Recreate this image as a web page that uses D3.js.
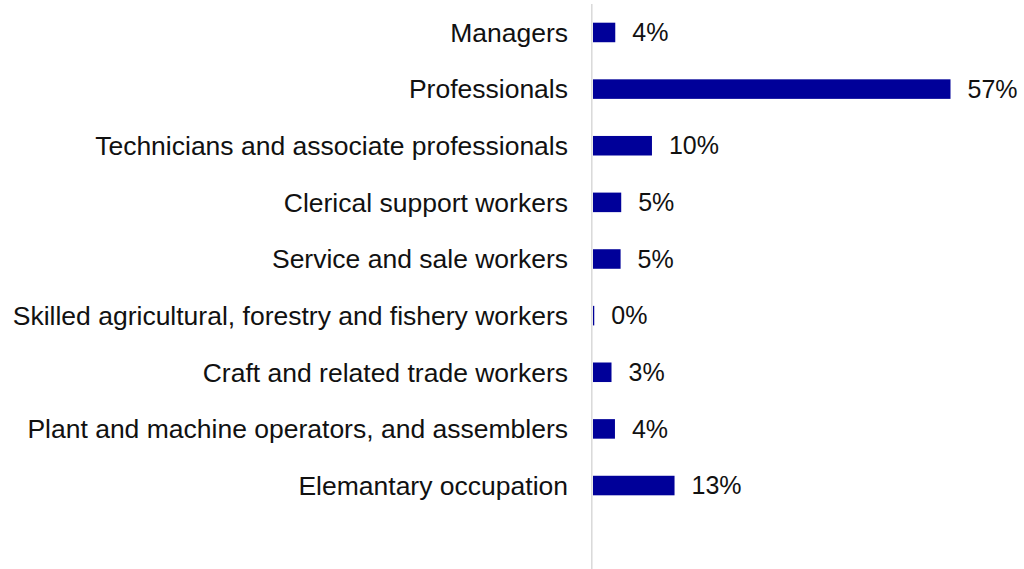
<!DOCTYPE html>
<html><head><meta charset="utf-8">
<script src="https://d3js.org/d3.v7.min.js"></script>
<style>
  body { margin: 0; background: #fff; }
  text { font-family: "Liberation Sans", Arial, sans-serif; }
</style>
</head>
<body>
<div id="chart"></div>
<script>
// ---- data ----
var categories = [
  "Managers",
  "Professionals",
  "Technicians and associate professionals",
  "Clerical support workers",
  "Service and sale workers",
  "Skilled agricultural, forestry and fishery workers",
  "Craft and related trade workers",
  "Plant and machine operators, and assemblers",
  "Elemantary occupation"
];
var values = [3.55, 57, 9.4, 4.5, 4.4, 0.2, 2.95, 3.5, 13];
var valueLabels = ["4%", "57%", "10%", "5%", "5%", "0%", "3%", "4%", "13%"];

var width = 1024, height = 569;
var x0 = 593;

var svg = d3.select("#chart").append("svg")
  .attr("width", width)
  .attr("height", height);

var x = d3.scaleLinear().domain([0, 57]).range([x0, 950.5]);
var y = d3.scaleBand().domain(categories).range([4, 514]).paddingInner(0.655).paddingOuter(0.33);

// axis line
svg.append("line")
  .attr("x1", x0 - 1.2).attr("x2", x0 - 1.2)
  .attr("y1", 4).attr("y2", height)
  .style("stroke", "#d9d9d9")
  .style("stroke-width", 1.5);

var rows = categories.map(function (c, i) {
  return { cat: c, val: values[i], lab: valueLabels[i] };
});

svg.selectAll("rect.bar")
  .data(rows)
  .enter()
  .append("rect")
  .attr("class", "bar")
  .attr("x", x(0))
  .attr("y", function (d) { return y(d.cat); })
  .attr("width", function (d) { return x(d.val) - x(0); })
  .attr("height", y.bandwidth())
  .style("fill", "#000099");

svg.selectAll("text.cat")
  .data(rows)
  .enter()
  .append("text")
  .attr("class", "cat")
  .attr("x", x0 - 25)
  .attr("y", function (d) { return y(d.cat) + y.bandwidth() / 2; })
  .attr("dy", "0.35em")
  .attr("text-anchor", "end")
  .style("font-size", "26.5px")
  .style("fill", "#111")
  .text(function (d) { return d.cat; });

svg.selectAll("text.val")
  .data(rows)
  .enter()
  .append("text")
  .attr("class", "val")
  .attr("x", function (d) { return x(d.val) + 17; })
  .attr("y", function (d) { return y(d.cat) + y.bandwidth() / 2; })
  .attr("dy", "0.35em")
  .style("font-size", "25px")
  .style("fill", "#111")
  .text(function (d) { return d.lab; });
</script>
</body></html>
